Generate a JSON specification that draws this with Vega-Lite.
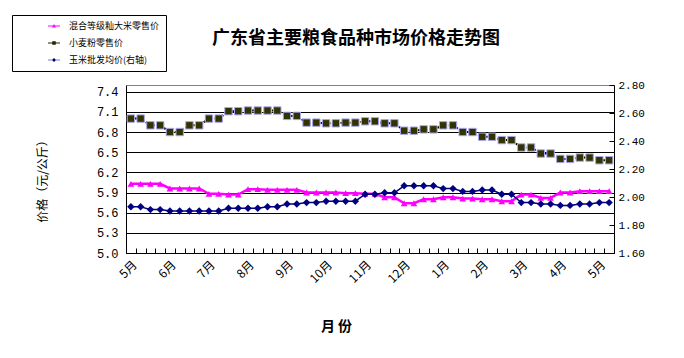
{
  "$schema": "https://vega.github.io/schema/vega-lite/v6.json",
  "width": 488,
  "height": 168,
  "autosize": {"type": "none"},
  "padding": {"left": 126, "top": 85, "right": 70, "bottom": 105},
  "background": "white",
  "config": {
    "font": "Noto Sans CJK SC",
    "view": {"stroke": null},
    "axis": {"labelColor": "black", "titleColor": "black"}
  },
  "title": {
    "text": "广东省主要粮食品种市场价格走势图",
    "font": "Noto Sans CJK SC",
    "fontSize": 18,
    "fontWeight": "bold",
    "color": "black",
    "anchor": "middle",
    "dx": -14,
    "dy": 33,
    "offset": 0
  },
  "data": {
    "values": [
      {"i": 0, "r": 6.03, "w": 7.00, "c": 1.93},
      {"i": 1, "r": 6.03, "w": 7.00, "c": 1.93},
      {"i": 2, "r": 6.03, "w": 6.90, "c": 1.91},
      {"i": 3, "r": 6.03, "w": 6.90, "c": 1.91},
      {"i": 4, "r": 5.96, "w": 6.80, "c": 1.90},
      {"i": 5, "r": 5.96, "w": 6.80, "c": 1.90},
      {"i": 6, "r": 5.96, "w": 6.90, "c": 1.90},
      {"i": 7, "r": 5.96, "w": 6.90, "c": 1.90},
      {"i": 8, "r": 5.88, "w": 7.00, "c": 1.90},
      {"i": 9, "r": 5.88, "w": 7.00, "c": 1.90},
      {"i": 10, "r": 5.87, "w": 7.11, "c": 1.92},
      {"i": 11, "r": 5.87, "w": 7.11, "c": 1.92},
      {"i": 12, "r": 5.95, "w": 7.12, "c": 1.92},
      {"i": 13, "r": 5.95, "w": 7.12, "c": 1.92},
      {"i": 14, "r": 5.94, "w": 7.12, "c": 1.93},
      {"i": 15, "r": 5.94, "w": 7.12, "c": 1.93},
      {"i": 16, "r": 5.94, "w": 7.04, "c": 1.95},
      {"i": 17, "r": 5.94, "w": 7.04, "c": 1.95},
      {"i": 18, "r": 5.90, "w": 6.94, "c": 1.96},
      {"i": 19, "r": 5.90, "w": 6.94, "c": 1.96},
      {"i": 20, "r": 5.90, "w": 6.93, "c": 1.97},
      {"i": 21, "r": 5.90, "w": 6.93, "c": 1.97},
      {"i": 22, "r": 5.89, "w": 6.94, "c": 1.97},
      {"i": 23, "r": 5.89, "w": 6.94, "c": 1.97},
      {"i": 24, "r": 5.88, "w": 6.96, "c": 2.02},
      {"i": 25, "r": 5.88, "w": 6.96, "c": 2.02},
      {"i": 26, "r": 5.83, "w": 6.93, "c": 2.03},
      {"i": 27, "r": 5.83, "w": 6.93, "c": 2.03},
      {"i": 28, "r": 5.74, "w": 6.82, "c": 2.08},
      {"i": 29, "r": 5.74, "w": 6.82, "c": 2.08},
      {"i": 30, "r": 5.80, "w": 6.84, "c": 2.08},
      {"i": 31, "r": 5.80, "w": 6.84, "c": 2.08},
      {"i": 32, "r": 5.83, "w": 6.90, "c": 2.06},
      {"i": 33, "r": 5.83, "w": 6.90, "c": 2.06},
      {"i": 34, "r": 5.81, "w": 6.80, "c": 2.04},
      {"i": 35, "r": 5.81, "w": 6.80, "c": 2.04},
      {"i": 36, "r": 5.80, "w": 6.73, "c": 2.05},
      {"i": 37, "r": 5.80, "w": 6.73, "c": 2.05},
      {"i": 38, "r": 5.77, "w": 6.68, "c": 2.02},
      {"i": 39, "r": 5.77, "w": 6.68, "c": 2.02},
      {"i": 40, "r": 5.87, "w": 6.57, "c": 1.96},
      {"i": 41, "r": 5.87, "w": 6.57, "c": 1.96},
      {"i": 42, "r": 5.82, "w": 6.48, "c": 1.95},
      {"i": 43, "r": 5.82, "w": 6.48, "c": 1.95},
      {"i": 44, "r": 5.90, "w": 6.40, "c": 1.94},
      {"i": 45, "r": 5.90, "w": 6.40, "c": 1.94},
      {"i": 46, "r": 5.92, "w": 6.42, "c": 1.95},
      {"i": 47, "r": 5.92, "w": 6.42, "c": 1.95},
      {"i": 48, "r": 5.92, "w": 6.38, "c": 1.96},
      {"i": 49, "r": 5.92, "w": 6.38, "c": 1.96}
    ]
  },
  "layer": [
    {
      "encoding": {
        "x": {
          "field": "i",
          "type": "quantitative",
          "scale": {"domain": [-0.5, 49.5], "nice": false, "zero": false},
          "axis": {
            "orient": "bottom",
            "values": [0, 4, 8, 12, 16, 20, 24, 28, 32, 36, 40, 44, 48],
            "tickCount": 60,
            "labelExpr": "['5月','6月','7月','8月','9月','10月','11月','12月','1月','2月','3月','4月','5月'][round(datum.value/4)]",
            "labelAngle": -45,
            "labelOverlap": false,
            "labelBound": false,
            "labelFontSize": 12,
            "labelPadding": 6,
            "labelDx": -17,
            "labelDy": -3,
            "ticks": false,
            "grid": false,
            "domain": true,
            "domainColor": "black",
            "title": "月  份",
            "titleFontSize": 14,
            "titleFontWeight": "bold",
            "titleX": 210,
            "titleY": 73,
            "titleAlign": "center",
            "titleBaseline": "middle"
          }
        }
      },
      "layer": [
        {
          "mark": {"type": "line", "strokeWidth": 2.5},
          "encoding": {
            "y": {
              "field": "r",
              "type": "quantitative",
              "scale": {"domain": [5, 7.5], "nice": false, "zero": false},
              "axis": {
                "orient": "left",
                "values": [5.0, 5.3, 5.6, 5.9, 6.2, 6.5, 6.8, 7.1, 7.4, 7.5],
                "tickCount": 30,
                "labelOverlap": false,
                "labelExpr": "datum.value > 7.45 ? '' : format(datum.value, '.1f')",
                "labelFont": "Liberation Mono",
                "labelFontSize": 12,
                "labelPadding": 8,
                "grid": true,
                "gridColor": {"condition": {"test": "datum.value > 7.45", "value": "#808080"}, "value": "black"},
                "gridOpacity": 1,
                "ticks": false,
                "domain": true,
                "domainColor": "black",
                "title": "价格（元/公斤）",
                "titleFontSize": 12,
                "titleFontWeight": "normal",
                "titleAngle": -90,
                "titleX": -84,
                "titleY": 93,
                "titleAlign": "center",
                "titleBaseline": "middle"
              }
            },
            "color": {
              "datum": "混合等级籼大米零售价",
              "type": "nominal",
              "scale": {
                "domain": ["混合等级籼大米零售价", "小麦粉零售价", "玉米批发均价(右轴)"],
                "range": ["#FF00FF", "#000000", "#000080"]
              },
              "legend": {
                "orient": "none",
                "legendX": -114,
                "legendY": -70,
                "title": null,
                "strokeColor": "black",
                "padding": 6,
                "symbolSize": 100,
                "symbolOffset": 31,
                "labelOffset": 10,
                "labelFont": "Noto Sans CJK SC",
                "labelFontSize": 9,
                "labelColor": "black",
                "rowPadding": 7,
                "labelExpr": "datum.label + '　　　　'",
                "encode": {
                  "symbols": {
                    "update": {
                      "shape": {"signal": "datum.value=='小麦粉零售价' ? 'M-1.2,-0.1H1.2V0.1H-1.2ZM-0.35,-0.35H0.35V0.35H-0.35Z' : datum.value=='玉米批发均价(右轴)' ? 'M-1.2,-0.06H1.2V0.06H-1.2ZM0,-0.4L0.4,0L0,0.4L-0.4,0Z' : 'M-1.2,-0.1H1.2V0.1H-1.2ZM0,-0.4L0.4,0.3H-0.4Z'"},
                      "fill": {"signal": "datum.value=='小麦粉零售价' ? '#222200' : datum.value=='玉米批发均价(右轴)' ? '#000080' : '#FF00FF'"},
                      "stroke": {"value": "transparent"},
                      "strokeWidth": {"value": 0},
                      "opacity": {"value": 1},
                      "fillOpacity": {"value": 1}
                    }
                  }
                }
              }
            }
          }
        },
        {
          "mark": {"type": "line", "strokeWidth": 2, "strokeDash": [2, 2]},
          "encoding": {
            "y": {"field": "w", "type": "quantitative"},
            "color": {"datum": "小麦粉零售价", "type": "nominal"}
          }
        },
        {
          "mark": {"type": "point", "shape": "triangle-up", "filled": true, "color": "#FF00FF", "size": 45, "opacity": 1},
          "encoding": {"y": {"field": "r", "type": "quantitative"}}
        },
        {
          "mark": {"type": "square", "fill": "#333300", "stroke": "#A8A8F0", "strokeWidth": 1, "size": 55, "opacity": 1, "fillOpacity": 1},
          "encoding": {"y": {"field": "w", "type": "quantitative"}}
        }
      ]
    },
    {
      "encoding": {
        "x": {
          "field": "i",
          "type": "quantitative",
          "axis": {
            "orient": "bottom",
            "values": [-0.5, 0.5, 1.5, 2.5, 3.5, 4.5, 5.5, 6.5, 7.5, 8.5, 9.5, 10.5, 11.5, 12.5, 13.5, 14.5, 15.5, 16.5, 17.5, 18.5, 19.5, 20.5, 21.5, 22.5, 23.5, 24.5, 25.5, 26.5, 27.5, 28.5, 29.5, 30.5, 31.5, 32.5, 33.5, 34.5, 35.5, 36.5, 37.5, 38.5, 39.5, 40.5, 41.5, 42.5, 43.5, 44.5, 45.5, 46.5, 47.5, 48.5, 49.5],
            "tickCount": 100,
            "labels": false,
            "ticks": true,
            "tickSize": -5,
            "tickColor": "black",
            "domain": false,
            "grid": false,
            "title": null
          }
        }
      },
      "layer": [
        {
          "mark": {"type": "line", "strokeWidth": 1.5},
          "encoding": {
            "y": {
              "field": "c",
              "type": "quantitative",
              "scale": {"domain": [1.6, 2.8], "nice": false, "zero": false},
              "axis": {
                "orient": "right",
                "values": [1.6, 1.8, 2.0, 2.2, 2.4, 2.6, 2.8],
                "tickCount": 30,
                "labelOverlap": false,
                "format": ".2f",
                "labelFont": "Liberation Mono",
                "labelFontSize": 11,
                "labelPadding": 9,
                "grid": false,
                "domain": true,
                "domainColor": "black",
                "ticks": true,
                "tickSize": -5,
                "tickColor": "black",
                "title": null
              }
            },
            "color": {"datum": "玉米批发均价(右轴)", "type": "nominal"}
          }
        },
        {
          "mark": {"type": "point", "shape": "diamond", "filled": true, "color": "#000080", "size": 55, "opacity": 1},
          "encoding": {"y": {"field": "c", "type": "quantitative"}}
        }
      ]
    }
  ],
  "resolve": {"scale": {"y": "independent"}, "axis": {"x": "independent", "y": "independent"}}
}
